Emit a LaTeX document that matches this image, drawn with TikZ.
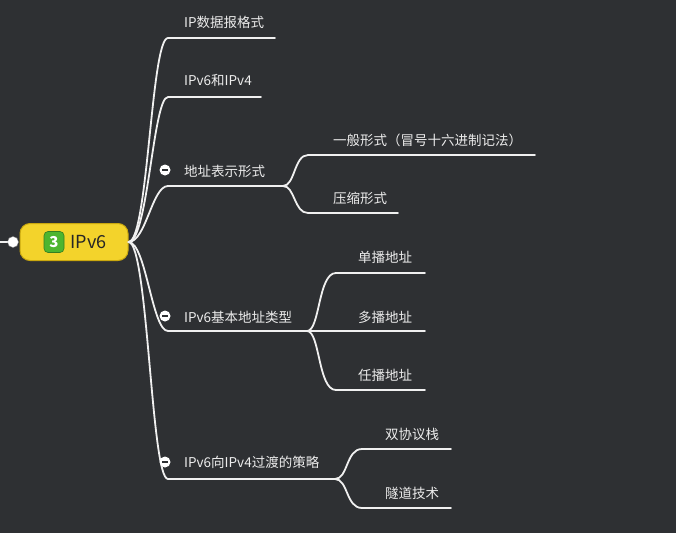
\documentclass[tikz,border=0pt]{standalone}
\usepackage{fontspec}
\setmainfont{Noto Sans CJK SC}
\usetikzlibrary{positioning}
\definecolor{bg}{HTML}{2E3033}
\definecolor{rootfill}{HTML}{F3D32B}
\definecolor{rootline}{HTML}{C9A70E}
\definecolor{badge}{HTML}{4DB52F}
\definecolor{wire}{HTML}{F0F0F0}
\definecolor{label}{HTML}{ECECEC}

\begin{document}
\begin{tikzpicture}[x=1pt, y=-1pt,
  topic/.style={anchor=west, text=label, inner sep=0pt, font=\fontsize{13.5}{13.5}\selectfont},
  wire/.style={draw=wire, line width=1.8pt, line cap=round},
  fold/.style={circle, fill=white, inner sep=0pt, minimum size=11pt}]
  \fill[bg] (0,0) rectangle (676,533);
  \useasboundingbox (0,0) rectangle (676,533);

  \node[rounded corners=10pt, fill=rootfill, draw=rootline, line width=1pt, minimum width=108pt, minimum height=37pt](root) at (74,242){};
  \node[rounded corners=4pt, fill=badge, draw=badge!70!black, line width=0.6pt, minimum width=20pt, minimum height=21pt, inner sep=0pt, text=white, font=\bfseries\itshape\fontsize{15}{15}\selectfont](num) at (54,242){3};
  \node[right=6pt of num, inner sep=0pt, text=black!85, font=\fontsize{18}{18}\selectfont](title){IPv6};

  \coordinate (in0) at (0,242);
  \node[fold, draw=gray](fold0) at (13,242){};
  \draw[wire] (in0) -- (fold0.west);

  \coordinate (s1) at (168,38);  \coordinate (e1) at (275,38);
  \coordinate (s2) at (168,97);  \coordinate (e2) at (261,97);
  \coordinate (s3) at (168,186); \coordinate (j3) at (283,186);
  \coordinate (s4) at (168,331); \coordinate (j4) at (307,331);
  \coordinate (s5) at (168,479); \coordinate (j5) at (335,479);

  \draw[wire] (root.east) .. controls (148,242) and (151,38) .. (s1) -- (e1);
  \draw[wire] (root.east) .. controls (148,242) and (153,97) .. (s2) -- (e2);
  \draw[wire] (root.east) .. controls (146,242) and (152,186) .. (s3) -- (j3);
  \draw[wire] (root.east) .. controls (146,242) and (152,331) .. (s4) -- (j4);
  \draw[wire] (root.east) .. controls (148,242) and (151,479) .. (s5) -- (j5);

  \node[topic](t1) at (184,22){IP数据报格式};
  \node[topic](t2) at (184,80){IPv6和IPv4};
  \node[topic](t3) at (184,171){地址表示形式};
  \node[topic](t4) at (184,317){IPv6基本地址类型};
  \node[topic](t5) at (184,462){IPv6向IPv4过渡的策略};

  \foreach \k/\y in {3/170, 4/316, 5/462}{
    \node[fold](m\k) at (165,\y){};
    \draw[bg, line width=1.6pt] ([xshift=-3pt]m\k.center) -- ([xshift=3pt]m\k.center);
  }

  \coordinate (s31) at (308,155); \coordinate (e31) at (535,155);
  \coordinate (s32) at (308,213); \coordinate (e32) at (398,213);
  \draw[wire] (j3) .. controls (295,186) and (294,155) .. (s31) -- (e31);
  \draw[wire] (j3) .. controls (295,186) and (294,213) .. (s32) -- (e32);
  \node[topic](t31) at (333,140){一般形式（冒号十六进制记法）};
  \node[topic](t32) at (333,198){压缩形式};

  \coordinate (s41) at (336,273); \coordinate (e41) at (425,273);
  \coordinate (e42) at (425,331);
  \coordinate (s43) at (336,390); \coordinate (e43) at (425,390);
  \draw[wire] (j4) .. controls (320,331) and (318,273) .. (s41) -- (e41);
  \draw[wire] (j4) -- (e42);
  \draw[wire] (j4) .. controls (320,331) and (318,390) .. (s43) -- (e43);
  \node[topic](t41) at (358,257){单播地址};
  \node[topic](t42) at (358,317){多播地址};
  \node[topic](t43) at (358,375){任播地址};

  \coordinate (s51) at (362,449); \coordinate (e51) at (451,449);
  \coordinate (s52) at (362,508); \coordinate (e52) at (451,508);
  \draw[wire] (j5) .. controls (348,479) and (346,449) .. (s51) -- (e51);
  \draw[wire] (j5) .. controls (348,479) and (346,508) .. (s52) -- (e52);
  \node[topic](t51) at (385,434){双协议栈};
  \node[topic](t52) at (385,493){隧道技术};
\end{tikzpicture}
\end{document}
